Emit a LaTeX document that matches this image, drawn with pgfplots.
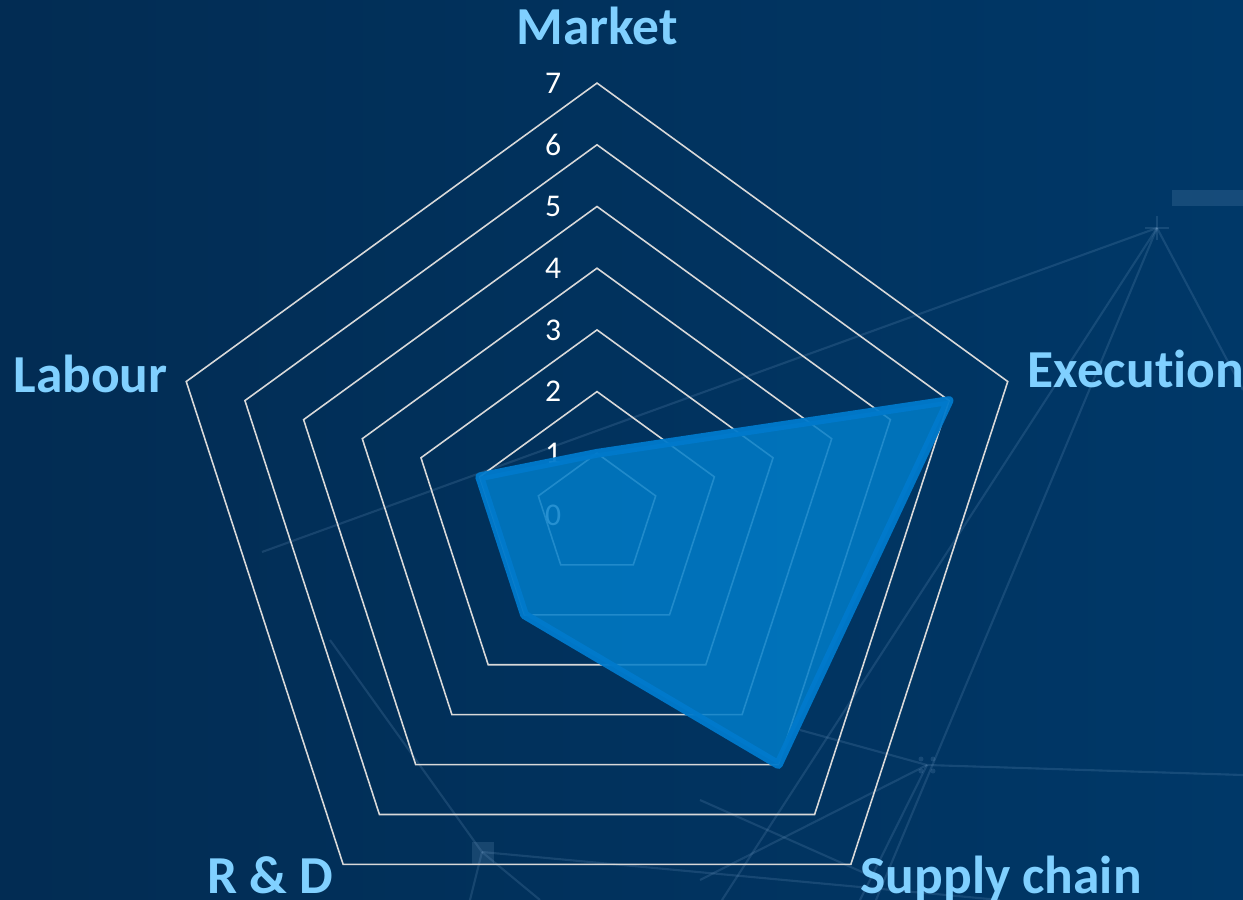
\documentclass[border=0pt]{standalone}
\usepackage{pgfplots}
\pgfplotsset{compat=1.18}
\usepackage{fontspec}
\setmainfont{Carlito}[Ligatures={NoCommon,NoRare}]
\definecolor{bgL}{RGB}{2,44,83}
\definecolor{bgR}{RGB}{0,56,104}
\definecolor{gridc}{RGB}{217,217,217}
\definecolor{lab}{RGB}{128,208,255}
\definecolor{fillc}{RGB}{0,125,201}
\definecolor{strokec}{RGB}{0,122,204}
\definecolor{deco}{RGB}{140,180,220}
\begin{document}
\begin{tikzpicture}
\useasboundingbox (0,0) rectangle (12.43cm,9cm);
\shade[left color=bgL, right color=bgR] (0,0) rectangle (12.43cm,9cm);
% faint background decoration (pixel coordinates)
\begin{scope}[shift={(0,9cm)}, x=0.1mm, y=-0.1mm, deco, opacity=0.16, line width=0.6pt]
\draw (262,552) -- (1157,228);
\draw (1157,228) -- (1243,390);
\draw (1157,228) -- (876,900);
\draw (1157,228) -- (722,900);
\draw (927,765) -- (1243,775);
\draw (800,730) -- (927,765);
\draw (927,765) -- (860,900);
\draw (927,765) -- (700,880);
\draw (330,640) -- (482,852);
\draw (482,852) -- (1000,900);
\draw (482,852) -- (470,900);
\draw (482,852) -- (540,900);
\draw (700,800) -- (880,880);
\draw (1145,228) -- (1169,228);
\draw (1157,216) -- (1157,240);
\fill (1172,190) rectangle (1243,206);
\fill (472,842) rectangle (494,864);
\foreach \p in {(921,759),(933,759),(921,771),(933,771)} \fill \p circle (2.5);
\end{scope}
\begin{axis}[at={(0,0)}, anchor=south west,
  width=12.43cm, height=9cm, scale only axis, hide axis,
  xmin=-9.676, xmax=10.470, ymin=-6.240, ymax=8.347, clip=false]
% grid pentagons
\foreach \k in {1,...,7}{
  \edef\temp{\noexpand\addplot[gridc, line width=0.45pt, data cs=polar, line join=miter]
    coordinates {(90,\k) (18,\k) (-54,\k) (-126,\k) (162,\k)} -- cycle;}
  \temp
}
% tick labels
\foreach \k in {0,...,7}{
  \edef\temp{\noexpand\node[anchor=east, text=white, font=\noexpand\fontsize{9}{10}\noexpand\selectfont, inner sep=0pt] at (axis cs:-0.57,\k) {\k};}
  \temp
}
% data polygon
\addplot[draw=strokec, line width=2.5pt, fill=fillc, fill opacity=0.85, draw opacity=0.95, line join=round, data cs=polar]
  coordinates {(90,1) (18,6) (-54,5) (-126,2) (162,2)} -- cycle;
% category labels
\begin{scope}[every node/.style={text=lab, font=\bfseries\fontsize{15.2}{18}\selectfont, inner sep=0pt}]
\node[anchor=base] at (axis cs:0,7.62) {Market};
\node[anchor=base west] at (axis cs:6.97,2.06) {Execution};
\node[anchor=base east] at (axis cs:-6.95,1.99) {Labour};
\node[anchor=base] at (axis cs:-5.30,-6.13) {R \& D};
\node[anchor=base] at (axis cs:6.55,-6.13) {Supply chain};
\end{scope}
\end{axis}
\end{tikzpicture}
\end{document}
